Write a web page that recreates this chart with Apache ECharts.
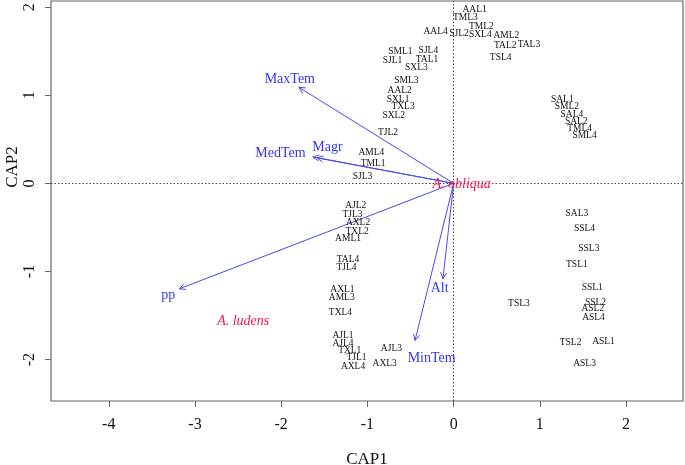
<!DOCTYPE html>
<html>
<head>
<meta charset="utf-8">
<script src="https://cdn.jsdelivr.net/npm/echarts@6/dist/echarts.min.js"></script>
<style>html,body{margin:0;padding:0;background:#fff}#c{width:685px;height:465px}</style>
</head>
<body>
<div id="c"></div>
<script>
// Sample scores (CAP1, CAP2)
const sampleNames = ["AAL1","TML3","TML2","AAL4","SJL2","SXL4","AML2","TAL2","TAL3","TSL4","SML1","SJL4","SJL1","TAL1","SXL3","SML3","AAL2","SXL1","TXL3","SXL2","TJL2","AML4","TML1","SJL3","SAL1","SML2","SAL4","SAL2","TML4","SML4","AJL2","TJL3","AXL2","TXL2","AML1","TAL4","TJL4","AXL1","AML3","TXL4","SAL3","SSL4","SSL3","TSL1","SSL1","SSL2","ASL2","ASL4","TSL3","TSL2","ASL1","ASL3","AJL1","AJL4","TXL1","TJL1","AXL4","AJL3","AXL3"];
const sampleX = [0.243,0.136,0.321,-0.209,0.061,0.309,0.611,0.599,0.873,0.545,-0.618,-0.293,-0.710,-0.309,-0.432,-0.548,-0.626,-0.645,-0.587,-0.695,-0.761,-0.954,-0.935,-1.058,1.260,1.313,1.371,1.422,1.460,1.518,-1.136,-1.174,-1.109,-1.120,-1.225,-1.225,-1.243,-1.290,-1.298,-1.313,1.429,1.518,1.568,1.429,1.607,1.645,1.614,1.622,0.757,1.356,1.738,1.518,-1.283,-1.283,-1.205,-1.127,-1.167,-0.722,-0.800];
const sampleY = [1.974,1.883,1.784,1.719,1.701,1.693,1.674,1.560,1.580,1.428,1.492,1.511,1.390,1.409,1.315,1.163,1.057,0.955,0.867,0.773,0.576,0.356,0.224,0.083,0.951,0.867,0.784,0.701,0.622,0.538,-0.250,-0.356,-0.447,-0.542,-0.628,-0.867,-0.958,-1.201,-1.299,-1.463,-0.344,-0.515,-0.742,-0.920,-1.178,-1.349,-1.424,-1.526,-1.367,-1.803,-1.792,-2.042,-1.727,-1.815,-1.898,-1.981,-2.076,-1.878,-2.042];

// Environmental vectors (arrow tips) and label positions
const envNames = ["MaxTem","MedTem","Magr","pp","Alt","MinTem"];
const envX = [-1.796,-1.634,-1.587,-3.183,-0.124,-0.448];
const envY = [1.091,0.301,0.290,-1.197,-1.083,-1.784];
const envLabelX = [-1.900,-2.008,-1.464,-3.311,-0.162,-0.255];
const envLabelY = [1.178,0.338,0.406,-1.273,-1.193,-1.980];

// Species centroids
const speciesNames = ["A. obliqua","A. ludens"];
const speciesX = [0.093,-2.441];
const speciesY = [-0.011,-1.565];

// Axis ticks
const xTicks = [-4,-3,-2,-1,0,1,2];
const yTicks = [-2,-1,0,1,2];

const FONT = '"Liberation Serif", "Times New Roman", serif';
const frame = '#666';

function textSeries(xs, ys, names, size, color, italic) {
  return {
    type: 'custom',
    coordinateSystem: 'cartesian2d',
    silent: true,
    z: 5,
    data: xs.map((x, i) => [x, ys[i]]),
    encode: { x: 0, y: 1 },
    renderItem: function (params, api) {
      const p = api.coord([api.value(0), api.value(1)]);
      return {
        type: 'text',
        x: p[0], y: p[1],
        style: {
          text: names[params.dataIndex],
          fill: color,
          font: (italic ? 'italic ' : '') + size + 'px ' + FONT,
          align: 'center', verticalAlign: 'middle',
          textAlign: 'center', textVerticalAlign: 'middle'
        }
      };
    }
  };
}

const chart = echarts.init(document.getElementById('c'), null, { renderer: 'canvas' });
chart.setOption({
  animation: false,
  backgroundColor: '#fff',
  grid: { left: 51, right: 2, top: 1, bottom: 64, containLabel: false, outerBoundsMode: 'none', show: true, borderColor: frame, borderWidth: 1.2, backgroundColor: 'transparent' },
  xAxis: {
    type: 'value', min: -4.67, max: 2.66,
    name: 'CAP1', nameLocation: 'middle', nameGap: 50,
    nameTextStyle: { fontFamily: FONT, fontSize: 17, color: '#111' },
    axisLine: { show: false, onZero: false },
    axisTick: { show: true, length: 6, lineStyle: { color: frame }, customValues: xTicks },
    axisLabel: { fontFamily: FONT, fontSize: 16, color: '#111', margin: 16, customValues: xTicks },
    splitLine: { show: false }
  },
  yAxis: {
    type: 'value', min: -2.47, max: 2.07,
    axisLine: { show: false, onZero: false },
    axisTick: { show: true, length: 6, lineStyle: { color: frame }, customValues: yTicks },
    axisLabel: { fontFamily: FONT, fontSize: 16, color: '#111', margin: 13, rotate: 90, customValues: yTicks },
    splitLine: { show: false }
  },
  graphic: [{
    type: 'text', x: 13, y: 167, rotation: Math.PI / 2,
    style: { text: 'CAP2', font: '17px ' + FONT, fill: '#111', align: 'center', verticalAlign: 'middle', textAlign: 'center', textVerticalAlign: 'middle' }
  }],
  series: [
    {
      type: 'line', data: [], silent: true,
      markLine: {
        symbol: 'none', silent: true, label: { show: false },
        lineStyle: { color: '#444', type: [1.5, 2], width: 1 },
        data: [{ xAxis: 0 }, { yAxis: 0 }]
      }
    },
    {
      type: 'custom',
      coordinateSystem: 'cartesian2d',
      silent: true,
      z: 4,
      data: envX.map((x, i) => [x, envY[i]]),
      encode: { x: 0, y: 1 },
      renderItem: function (params, api) {
        const o = api.coord([0, 0]);
        const t = api.coord([api.value(0), api.value(1)]);
        const ang = Math.atan2(t[1] - o[1], t[0] - o[0]);
        const L = 7, a = Math.PI / 7;
        const stroke = '#4a4af0';
        return {
          type: 'group',
          children: [
            { type: 'line', shape: { x1: o[0], y1: o[1], x2: t[0], y2: t[1] }, style: { stroke: stroke, lineWidth: 1 } },
            { type: 'polyline', shape: { points: [
              [t[0] - L * Math.cos(ang - a), t[1] - L * Math.sin(ang - a)],
              [t[0], t[1]],
              [t[0] - L * Math.cos(ang + a), t[1] - L * Math.sin(ang + a)]
            ] }, style: { stroke: stroke, lineWidth: 1, fill: null } }
          ]
        };
      }
    },
    textSeries(sampleX, sampleY, sampleNames, 9.5, '#111', false),
    textSeries(envLabelX, envLabelY, envNames, 14, '#3434f5', false),
    textSeries(speciesX, speciesY, speciesNames, 14, '#f0164c', true)
  ]
});
</script>
</body>
</html>
